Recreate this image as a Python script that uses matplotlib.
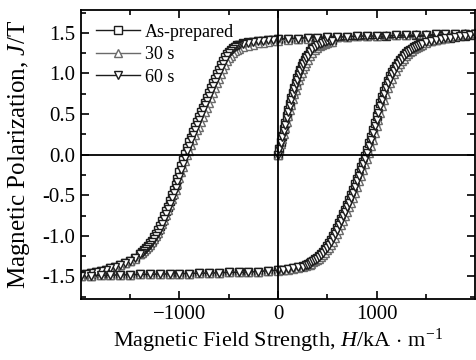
import matplotlib
matplotlib.use("Agg")
import matplotlib.pyplot as plt
from matplotlib.ticker import MultipleLocator, FixedLocator, FormatStrFormatter

plt.rcParams['font.family'] = ['Liberation Serif', 'DejaVu Serif']
plt.rcParams['mathtext.fontset'] = 'custom'
plt.rcParams['mathtext.rm'] = 'Liberation Serif'
plt.rcParams['mathtext.it'] = 'Liberation Serif:italic'

# field points (kA/m), shared by all three samples
init_h = [0, 15, 30, 45, 60, 75, 90, 105, 120, 135, 150, 165, 180, 195, 210,
          225, 240, 255, 270, 285, 300, 325, 350, 375, 400, 425, 450, 475, 500,
          525, 550]
desc_h = [2000, 1900, 1800, 1700, 1600, 1500, 1400, 1300, 1200, 1100, 1000,
          900, 800, 700, 600, 500, 400, 300, 200, 100, 0,
          -50, -100, -150, -200, -250, -300, -350, -400,
          -420, -440, -460, -480, -500, -520, -540, -560, -580, -600,
          -620, -640, -660, -680, -700, -720, -740, -760, -780, -800,
          -820, -840, -860, -880, -900, -920, -940, -960, -980, -1000,
          -1020, -1040, -1060, -1080, -1100, -1120, -1140, -1160, -1180, -1200,
          -1220, -1240, -1260, -1280, -1300, -1320, -1340, -1360, -1380, -1400,
          -1450, -1500, -1550, -1600, -1650, -1700, -1750, -1800, -1850, -1900,
          -1950, -2000]
asc_h = [-2000, -1900, -1800, -1700, -1600, -1500, -1400, -1300, -1200, -1100,
         -1000, -900, -800, -700, -600, -500, -400, -300, -200, -100, 0,
         50, 100, 150, 200, 250,
         280, 300, 320, 340, 360, 380, 400, 420, 440, 460,
         480, 500, 520, 540, 560, 580, 600, 620, 640, 660,
         680, 700, 720, 740, 760, 780, 800, 820, 840, 860,
         880, 900, 920, 940, 960, 980, 1000, 1020, 1040, 1060,
         1080, 1100, 1120, 1140, 1160, 1180, 1200, 1220, 1240, 1260,
         1280, 1300, 1320, 1340, 1360, 1380, 1400, 1420, 1440, 1460,
         1500, 1550, 1600, 1650, 1700, 1750, 1800, 1850, 1900, 1950, 2000]

# polarization J (T)
ap_init = [0.00, 0.075, 0.15, 0.23, 0.31, 0.39, 0.47, 0.545, 0.62, 0.695, 0.76,
           0.82, 0.88, 0.94, 0.995, 1.045, 1.09, 1.13, 1.165, 1.20, 1.23,
           1.275, 1.31, 1.335, 1.35, 1.365, 1.38, 1.39, 1.40, 1.405, 1.41]
ap_desc = [1.49, 1.49, 1.48, 1.48, 1.48, 1.47, 1.47, 1.47, 1.47, 1.46, 1.46,
           1.46, 1.46, 1.45, 1.45, 1.45, 1.44, 1.44, 1.43, 1.43, 1.42,
           1.415, 1.41, 1.405, 1.40, 1.39, 1.385, 1.37, 1.355,
           1.345, 1.33, 1.31, 1.29, 1.265, 1.24, 1.20, 1.15, 1.10, 1.045,
           0.99, 0.935, 0.88, 0.82, 0.76, 0.70, 0.64, 0.58, 0.52, 0.46,
           0.40, 0.34, 0.28, 0.21, 0.15, 0.08, 0.01, -0.07, -0.14, -0.22,
           -0.30, -0.37, -0.44, -0.50, -0.57, -0.64, -0.70, -0.76, -0.82, -0.88,
           -0.93, -0.98, -1.02, -1.06, -1.09, -1.12, -1.15, -1.17, -1.20, -1.22,
           -1.27, -1.31, -1.335, -1.36, -1.38, -1.40, -1.415, -1.43, -1.445, -1.46,
           -1.47, -1.48]
ap_asc = [-1.49, -1.49, -1.485, -1.485, -1.48, -1.48, -1.475, -1.475, -1.47, -1.47,
          -1.465, -1.465, -1.46, -1.46, -1.455, -1.45, -1.45, -1.445, -1.44, -1.43,
          -1.425,
          -1.42, -1.41, -1.40, -1.39, -1.375,
          -1.36, -1.35, -1.335, -1.32, -1.305, -1.29, -1.27, -1.245, -1.22, -1.195,
          -1.165, -1.13, -1.09, -1.05, -1.005, -0.955, -0.90, -0.845, -0.79, -0.735,
          -0.68, -0.62, -0.56, -0.50, -0.435, -0.365, -0.295, -0.225, -0.155, -0.085,
          -0.015, 0.06, 0.14, 0.22, 0.305, 0.39, 0.475, 0.56, 0.635, 0.71,
          0.78, 0.85, 0.91, 0.965, 1.015, 1.055, 1.095, 1.13, 1.165, 1.195,
          1.225, 1.25, 1.27, 1.29, 1.305, 1.32, 1.335, 1.35, 1.36, 1.37,
          1.39, 1.405, 1.415, 1.425, 1.435, 1.44, 1.45, 1.455, 1.46, 1.47, 1.48]

s30_init = [0.00, 0.06, 0.125, 0.19, 0.26, 0.33, 0.40, 0.47, 0.545, 0.615, 0.68,
            0.745, 0.80, 0.86, 0.915, 0.965, 1.01, 1.055, 1.095, 1.13, 1.165,
            1.215, 1.255, 1.29, 1.315, 1.335, 1.35, 1.365, 1.375, 1.385, 1.39]
s30_desc = [1.50, 1.50, 1.49, 1.49, 1.48, 1.48, 1.48, 1.47, 1.47, 1.47, 1.46,
            1.46, 1.46, 1.45, 1.45, 1.44, 1.44, 1.43, 1.42, 1.41, 1.40,
            1.395, 1.39, 1.38, 1.37, 1.355, 1.34, 1.32, 1.30,
            1.29, 1.27, 1.25, 1.22, 1.19, 1.15, 1.10, 1.05, 0.99, 0.935,
            0.88, 0.82, 0.76, 0.70, 0.64, 0.58, 0.52, 0.46, 0.40, 0.34,
            0.30, 0.24, 0.18, 0.115, 0.05, -0.01, -0.08, -0.15, -0.22, -0.29,
            -0.36, -0.43, -0.49, -0.55, -0.62, -0.68, -0.74, -0.80, -0.86, -0.91,
            -0.96, -1.00, -1.04, -1.08, -1.11, -1.14, -1.16, -1.19, -1.21, -1.23,
            -1.28, -1.31, -1.34, -1.36, -1.38, -1.40, -1.415, -1.43, -1.445, -1.46,
            -1.47, -1.48]
s30_asc = [-1.49, -1.49, -1.485, -1.485, -1.48, -1.48, -1.475, -1.475, -1.47, -1.47,
           -1.465, -1.465, -1.46, -1.46, -1.455, -1.45, -1.45, -1.445, -1.44, -1.43,
           -1.43,
           -1.425, -1.415, -1.405, -1.395, -1.385,
           -1.375, -1.365, -1.355, -1.342, -1.327, -1.312, -1.297, -1.28, -1.257, -1.232,
           -1.207, -1.18, -1.148, -1.11, -1.07, -1.027, -0.98, -0.927, -0.872, -0.817,
           -0.762, -0.707, -0.65, -0.59, -0.53, -0.467, -0.40, -0.33, -0.26, -0.19,
           -0.12, -0.05, 0.022, 0.10, 0.18, 0.262, 0.347, 0.432, 0.517, 0.597,
           0.672, 0.745, 0.815, 0.88, 0.937, 0.99, 1.035, 1.075, 1.112, 1.148,
           1.18, 1.21, 1.237, 1.26, 1.28, 1.297, 1.312, 1.327, 1.342, 1.355,
           1.38, 1.40, 1.415, 1.43, 1.44, 1.45, 1.46, 1.47, 1.48, 1.49, 1.50]

s60_init = [0.00, 0.07, 0.14, 0.215, 0.29, 0.37, 0.45, 0.525, 0.60, 0.675, 0.745,
            0.805, 0.865, 0.925, 0.98, 1.03, 1.075, 1.115, 1.155, 1.19, 1.22,
            1.265, 1.30, 1.33, 1.345, 1.36, 1.375, 1.385, 1.395, 1.40, 1.405]
s60_desc = [1.49, 1.49, 1.48, 1.48, 1.48, 1.47, 1.47, 1.47, 1.47, 1.46, 1.46,
            1.46, 1.46, 1.45, 1.45, 1.45, 1.44, 1.44, 1.43, 1.43, 1.42,
            1.415, 1.41, 1.40, 1.395, 1.385, 1.375, 1.36, 1.345,
            1.335, 1.32, 1.30, 1.275, 1.25, 1.215, 1.17, 1.12, 1.067, 1.01,
            0.957, 0.90, 0.845, 0.785, 0.725, 0.665, 0.605, 0.545, 0.485, 0.425,
            0.365, 0.305, 0.24, 0.175, 0.11, 0.04, -0.04, -0.11, -0.19, -0.27,
            -0.34, -0.41, -0.475, -0.54, -0.61, -0.675, -0.735, -0.795, -0.855, -0.91,
            -0.96, -1.00, -1.045, -1.08, -1.11, -1.14, -1.165, -1.19, -1.21, -1.23,
            -1.275, -1.31, -1.34, -1.36, -1.38, -1.40, -1.415, -1.43, -1.445, -1.46,
            -1.47, -1.48]
s60_asc = [-1.49, -1.49, -1.485, -1.485, -1.48, -1.48, -1.475, -1.475, -1.47, -1.47,
           -1.465, -1.465, -1.46, -1.46, -1.455, -1.45, -1.45, -1.445, -1.44, -1.43,
           -1.425,
           -1.42, -1.41, -1.40, -1.39, -1.38,
           -1.365, -1.355, -1.342, -1.327, -1.312, -1.297, -1.28, -1.257, -1.232, -1.207,
           -1.18, -1.147, -1.11, -1.07, -1.027, -0.98, -0.927, -0.872, -0.817, -0.762,
           -0.707, -0.65, -0.59, -0.53, -0.467, -0.40, -0.33, -0.26, -0.19, -0.12,
           -0.05, 0.022, 0.10, 0.18, 0.262, 0.347, 0.432, 0.517, 0.597, 0.672,
           0.745, 0.815, 0.88, 0.937, 0.99, 1.035, 1.075, 1.112, 1.148, 1.18,
           1.21, 1.237, 1.26, 1.28, 1.297, 1.312, 1.327, 1.342, 1.355, 1.365,
           1.385, 1.40, 1.415, 1.425, 1.435, 1.44, 1.45, 1.455, 1.46, 1.47, 1.48]

labels = ['As-prepared', '30 s', '60 s']
colors = ['#1c1c1c', '#6a6a6a', '#1c1c1c']
markers = ['s', '^', 'v']
series = [(ap_init, ap_desc, ap_asc), (s30_init, s30_desc, s30_asc),
          (s60_init, s60_desc, s60_asc)]

fig = plt.figure(figsize=(4.76, 3.6), dpi=100)
ax = fig.add_axes([0.170, 0.169, 0.828, 0.803])

h_all = init_h + desc_h + asc_h
for (ji, jd, ja), lab, c, m in zip(series, labels, colors, markers):
    ax.plot(h_all, ji + jd + ja, color=c, marker=m, markersize=5.5,
            markerfacecolor='white', markeredgecolor=c, markeredgewidth=1.0,
            linewidth=1.0, label=lab)

ax.axhline(0, color='black', linewidth=1.3, zorder=5)
ax.axvline(0, color='black', linewidth=1.3, zorder=5)

ax.set_xlim(-2000, 2000)
ax.set_ylim(-1.78, 1.78)
ax.xaxis.set_major_locator(FixedLocator([-1000, 0, 1000]))
ax.xaxis.set_minor_locator(FixedLocator([-1500, -500, 500, 1500]))
ax.yaxis.set_major_locator(MultipleLocator(0.5))
ax.yaxis.set_minor_locator(MultipleLocator(0.25))
ax.yaxis.set_major_formatter(FormatStrFormatter('%.1f'))
ax.tick_params(which='both', direction='in', top=True, right=True,
               labelsize=15, width=1.2, pad=4)
ax.tick_params(which='major', length=6)
ax.tick_params(which='minor', length=3.5)
for sp in ax.spines.values():
    sp.set_linewidth(1.3)

ax.set_xlabel('Magnetic Field Strength, $H$/kA$\\,\\cdot\\,$m$^{\\mathrm{-1}}$',
              fontsize=16, labelpad=2)
ax.set_ylabel('Magnetic Polarization, $J$/T', fontsize=18)
ax.yaxis.set_label_coords(-0.125, 0.5)

ax.legend(loc='upper left', bbox_to_anchor=(0.03, 0.965), frameon=False,
          fontsize=13, handlelength=2.4, handletextpad=0.28, labelspacing=0.3,
          borderaxespad=0, borderpad=0.2)

fig.savefig('out.png', dpi=100)
